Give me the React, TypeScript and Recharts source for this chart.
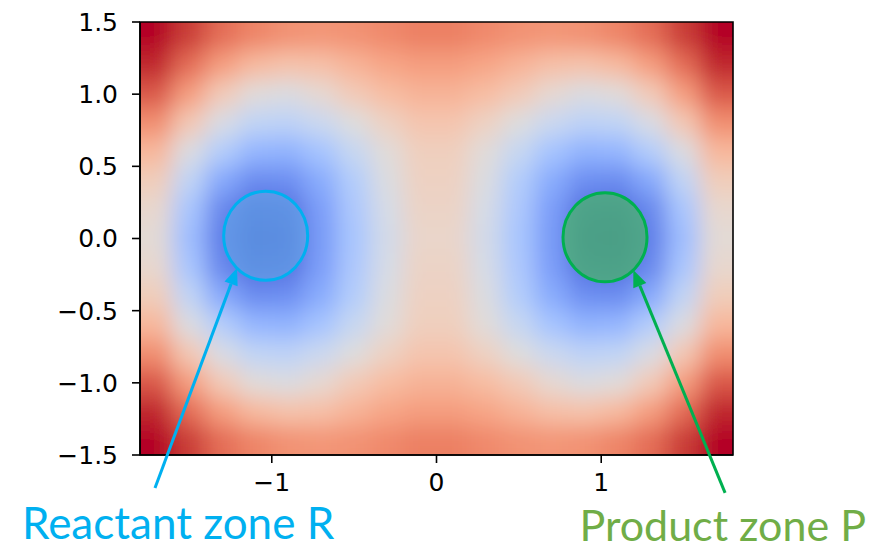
import React from "react";
import {
  ScatterChart,
  Scatter,
  XAxis,
  YAxis,
  ReferenceDot,
  ReferenceLine,
  ReferenceArea,
} from "recharts";

// grid cell centres of the potential map
const xCenters = [-1.7, -1.5, -1.3, -1.1, -0.9, -0.7, -0.5, -0.3, -0.1, 0.1, 0.3, 0.5, 0.7, 0.9, 1.1, 1.3, 1.5, 1.7];
const yCenters = [1.4, 1.2, 1.0, 0.8, 0.6, 0.4, 0.2, 0.0, -0.2, -0.4, -0.6, -0.8, -1.0, -1.2, -1.4];

// colour level (0 = blue, 1 = red), one row per yCenter
const levels = [
  [1.0, 0.94, 0.85, 0.8, 0.77, 0.76, 0.77, 0.79, 0.81, 0.81, 0.79, 0.77, 0.76, 0.77, 0.8, 0.85, 0.94, 1.0],
  [0.97, 0.85, 0.74, 0.66, 0.63, 0.64, 0.68, 0.72, 0.74, 0.74, 0.72, 0.68, 0.64, 0.63, 0.66, 0.74, 0.85, 0.97],
  [0.89, 0.74, 0.6, 0.51, 0.49, 0.53, 0.6, 0.65, 0.68, 0.68, 0.65, 0.6, 0.53, 0.49, 0.51, 0.6, 0.74, 0.89],
  [0.78, 0.61, 0.48, 0.4, 0.39, 0.43, 0.5, 0.57, 0.62, 0.62, 0.57, 0.5, 0.43, 0.39, 0.4, 0.48, 0.61, 0.78],
  [0.67, 0.49, 0.36, 0.27, 0.26, 0.32, 0.42, 0.51, 0.58, 0.58, 0.51, 0.42, 0.32, 0.26, 0.27, 0.36, 0.49, 0.67],
  [0.59, 0.4, 0.23, 0.15, 0.16, 0.24, 0.36, 0.49, 0.57, 0.57, 0.49, 0.36, 0.24, 0.16, 0.15, 0.23, 0.4, 0.59],
  [0.54, 0.33, 0.14, 0.08, 0.09, 0.2, 0.34, 0.47, 0.56, 0.56, 0.47, 0.34, 0.2, 0.09, 0.08, 0.14, 0.33, 0.54],
  [0.52, 0.3, 0.12, 0.06, 0.07, 0.19, 0.33, 0.46, 0.55, 0.55, 0.46, 0.33, 0.19, 0.07, 0.06, 0.12, 0.3, 0.52],
  [0.54, 0.33, 0.14, 0.08, 0.09, 0.2, 0.34, 0.47, 0.56, 0.56, 0.47, 0.34, 0.2, 0.09, 0.08, 0.14, 0.33, 0.54],
  [0.59, 0.4, 0.23, 0.15, 0.16, 0.24, 0.36, 0.49, 0.57, 0.57, 0.49, 0.36, 0.24, 0.16, 0.15, 0.23, 0.4, 0.59],
  [0.67, 0.49, 0.36, 0.27, 0.26, 0.32, 0.42, 0.51, 0.58, 0.58, 0.51, 0.42, 0.32, 0.26, 0.27, 0.36, 0.49, 0.67],
  [0.78, 0.61, 0.48, 0.4, 0.39, 0.43, 0.5, 0.57, 0.62, 0.62, 0.57, 0.5, 0.43, 0.39, 0.4, 0.48, 0.61, 0.78],
  [0.89, 0.74, 0.6, 0.51, 0.49, 0.53, 0.6, 0.65, 0.68, 0.68, 0.65, 0.6, 0.53, 0.49, 0.51, 0.6, 0.74, 0.89],
  [0.97, 0.85, 0.74, 0.66, 0.63, 0.64, 0.68, 0.72, 0.74, 0.74, 0.72, 0.68, 0.64, 0.63, 0.66, 0.74, 0.85, 0.97],
  [1.0, 0.94, 0.85, 0.8, 0.77, 0.76, 0.77, 0.79, 0.81, 0.81, 0.79, 0.77, 0.76, 0.77, 0.8, 0.85, 0.94, 1.0],
];

const xTicks = [-1, 0, 1];
const yTicks = [-1.5, -1.0, -0.5, 0.0, 0.5, 1.0, 1.5];

// zones and arrows (data coordinates)
const reactantZone = { x: -1.037, y: 0.019 };
const productZone = { x: 1.023, y: 0.009 };
const reactantArrow = [{ x: -1.709, y: -1.729 }, { x: -1.211, y: -0.204 }];
const productArrow = [{ x: 1.752, y: -1.762 }, { x: 1.195, y: -0.218 }];

// coolwarm colormap, 33 stops
const coolwarm = [
  [59, 76, 192], [68, 90, 204], [77, 104, 215], [87, 117, 225], [98, 130, 234], [108, 142, 241],
  [119, 154, 247], [130, 165, 251], [141, 176, 254], [152, 185, 255], [163, 194, 255], [174, 201, 253],
  [184, 208, 249], [194, 213, 244], [204, 217, 238], [213, 219, 230], [221, 221, 221], [229, 216, 209],
  [236, 211, 197], [241, 204, 185], [245, 196, 173], [247, 187, 160], [247, 177, 148], [247, 166, 135],
  [244, 154, 123], [241, 141, 111], [236, 127, 99], [229, 112, 88], [222, 96, 77], [213, 80, 66],
  [203, 62, 56], [192, 40, 47], [180, 4, 38],
];

const colorOf = (v: number) => {
  const t = Math.max(0, Math.min(1, v)) * (coolwarm.length - 1);
  const i = Math.min(coolwarm.length - 2, Math.floor(t));
  const f = t - i;
  const c = coolwarm[i].map((a, k) => Math.round(a + (coolwarm[i + 1][k] - a) * f));
  return `rgb(${c[0]},${c[1]},${c[2]})`;
};

const W = 872;
const H = 550;
const MARGIN = { top: 22, right: 139, left: 0, bottom: 0 };
const Y_AXIS_W = 140;
const X_AXIS_H = 95;
const PLOT_W = W - MARGIN.left - MARGIN.right - Y_AXIS_W;
const PLOT_H = H - MARGIN.top - MARGIN.bottom - X_AXIS_H;

const cells = yCenters.flatMap((y, row) =>
  xCenters.map((x, col) => ({ x, y, row, col, level: levels[row][col] }))
);

const HeatCell = (props: any) => {
  const { cx, cy, payload } = props;
  const w = PLOT_W / xCenters.length;
  const h = PLOT_H / yCenters.length;
  // outer cells are stretched past the frame so the blur keeps edge colours (clipped later)
  const l = payload.col === 0 ? w : 0;
  const r = payload.col === xCenters.length - 1 ? w : 0;
  const t = payload.row === 0 ? h : 0;
  const b = payload.row === yCenters.length - 1 ? h : 0;
  return (
    <rect
      x={cx - w / 2 - l - 0.5}
      y={cy - h / 2 - t - 0.5}
      width={w + l + r + 1}
      height={h + t + b + 1}
      fill={colorOf(payload.level)}
    />
  );
};

const fmtY = (v: number) => (v < 0 ? "\u2212" : "") + Math.abs(v).toFixed(1);
const fmtX = (v: number) => (v < 0 ? "\u2212" : "") + Math.abs(v).toFixed(0);

const arrow = (color: string) => (p: any) => {
  const { x1, y1, x2, y2 } = p;
  const a = Math.atan2(y2 - y1, x2 - x1);
  const len = 17;
  const half = 7;
  const bx = x2 - len * Math.cos(a);
  const by = y2 - len * Math.sin(a);
  const pts = [
    [x2, y2],
    [bx - half * Math.sin(a), by + half * Math.cos(a)],
    [bx + half * Math.sin(a), by - half * Math.cos(a)],
  ]
    .map((q) => q.join(","))
    .join(" ");
  return (
    <g>
      <line x1={x1} y1={y1} x2={bx} y2={by} stroke={color} strokeWidth={3} />
      <polygon points={pts} fill={color} />
    </g>
  );
};

const zone = (fill: string, opacity: number, stroke: string) => (p: any) => (
  <ellipse cx={p.cx} cy={p.cy} rx={42} ry={44.5} fill={fill} fillOpacity={opacity} stroke={stroke} strokeWidth={3} />
);

const tickStyle = { fill: "#000", fontSize: 25, fontFamily: "DejaVu Sans" };

export default function App() {
  return (
    <div style={{ position: "relative", width: W, height: H }}>
      <style>{`body{margin:0} .heat-cells{filter:url(#heatBlur)}`}</style>
      <ScatterChart width={W} height={H} margin={MARGIN}>
        <defs>
          <filter id="heatBlur" x="-10%" y="-10%" width="120%" height="120%">
            <feGaussianBlur stdDeviation="11" />
          </filter>
        </defs>
        <XAxis
          dataKey="x"
          type="number"
          domain={[-1.8, 1.8]}
          ticks={xTicks}
          allowDataOverflow
          height={X_AXIS_H}
          tickFormatter={fmtX}
          tick={tickStyle}
          tickSize={8}
          tickMargin={10}
          axisLine={{ stroke: "#000", strokeWidth: 1.6 }}
          tickLine={{ stroke: "#000", strokeWidth: 1.6 }}
        />
        <YAxis
          dataKey="y"
          type="number"
          domain={[-1.5, 1.5]}
          ticks={yTicks}
          allowDataOverflow
          width={Y_AXIS_W}
          tickFormatter={fmtY}
          tick={tickStyle}
          tickSize={8}
          tickMargin={14}
          axisLine={{ stroke: "#000", strokeWidth: 1.6 }}
          tickLine={{ stroke: "#000", strokeWidth: 1.6 }}
        />
        <Scatter data={cells} shape={HeatCell} className="heat-cells" isAnimationActive={false} zIndex={0} />
        <ReferenceArea x1={-1.8} x2={1.8} y1={-1.5} y2={1.5} fill="none" stroke="#000" strokeWidth={1.6} ifOverflow="visible" zIndex={700} />
        <ReferenceDot x={reactantZone.x} y={reactantZone.y} r={43} shape={zone("#64A5E6", 0.6, "#00B0F0")} zIndex={700} />
        <ReferenceDot x={productZone.x} y={productZone.y} r={43} shape={zone("#4AB466", 0.72, "#00B050")} zIndex={700} />
        <ReferenceLine segment={reactantArrow} ifOverflow="visible" shape={arrow("#00B0F0")} zIndex={800} />
        <ReferenceLine segment={productArrow} ifOverflow="visible" shape={arrow("#00B050")} zIndex={800} />
      </ScatterChart>
      <svg width={W} height={H} style={{ position: "absolute", left: 0, top: 0, pointerEvents: "none" }}>
        <text x={22} y={539} fill="#00B0F0" fontFamily="Lato" fontSize={44}>
          Reactant zone R
        </text>
        <text x={866} y={541} fill="#70AD47" fontFamily="Lato" fontSize={43} textAnchor="end">
          Product zone P
        </text>
      </svg>
    </div>
  );
}
